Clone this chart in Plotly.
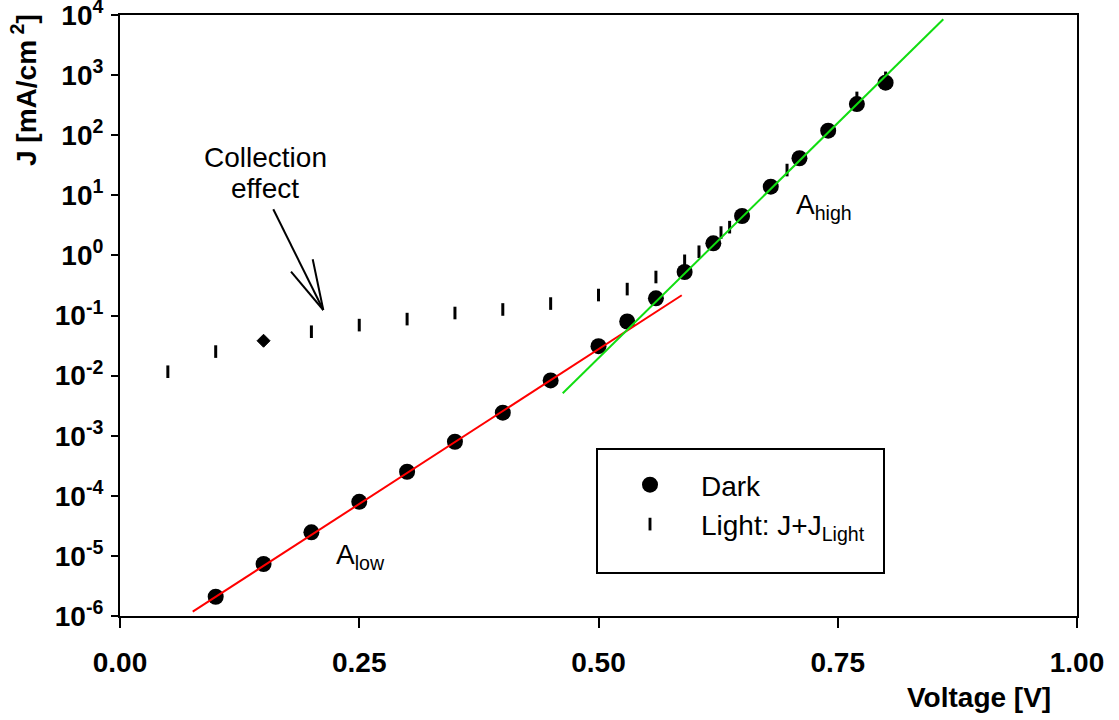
import plotly.graph_objects as go

# Dark J-V curve
dark_v = [0.10, 0.15, 0.20, 0.25, 0.30, 0.35, 0.40, 0.45, 0.50, 0.53,
          0.56, 0.59, 0.62, 0.65, 0.68, 0.71, 0.74, 0.77, 0.80]
dark_j = [2.09e-6, 7.33e-6, 2.47e-5, 7.94e-5, 2.51e-4, 7.94e-4, 2.42e-3,
          8.32e-3, 3.09e-2, 7.94e-2, 0.193, 0.530, 1.59, 4.53, 13.9, 41.3,
          119, 330, 748]

# Illuminated curve, J + J_Light
light_v = [0.05, 0.10, 0.15, 0.20, 0.25, 0.30, 0.35, 0.40, 0.45, 0.50,
           0.53, 0.56, 0.59, 0.605, 0.628, 0.637, 0.697, 0.77, 0.80]
light_j = [1.16e-2, 2.51e-2, 3.80e-2, 5.37e-2, 6.92e-2, 8.71e-2, 0.110,
           0.126, 0.158, 0.219, 0.275, 0.437, 0.813, 1.15, 2.40, 2.95,
           26.3, 417, 900]

# Diode fits (low- and high-bias regimes)
low_fit_v = [0.076, 0.587]
low_fit_j = [1.18e-6, 0.217]
high_fit_v = [0.4626, 0.8603]
high_fit_j = [5.07e-3, 8472]

x_ticks = [0.0, 0.25, 0.50, 0.75, 1.00]
y_exponents = [-6, -5, -4, -3, -2, -1, 0, 1, 2, 3, 4]

FONT = "Arial, Liberation Sans, sans-serif"
W, H = 1119, 720
L, R, T, B = 120, 42, 15, 104
PW, PH = W - L - R, H - T - B


def px(x):
    return (x - L) / PW


def py(y):
    return (H - B - y) / PH


light_symbols = ["line-ns-open"] * len(light_v)
light_symbols[2] = "diamond"
light_sizes = [9] * len(light_v)
light_sizes[2] = 10
light_lw = [3] * len(light_v)
light_lw[2] = 1

fig = go.Figure()

fig.add_trace(go.Scatter(
    x=dark_v, y=dark_j, mode="markers", name="Dark",
    marker=dict(symbol="circle", size=16, color="black", opacity=1),
))
fig.add_trace(go.Scatter(
    x=light_v, y=light_j, mode="markers", name="Light: J+J<sub>Light</sub>",
    marker=dict(symbol=light_symbols, size=light_sizes, color="black",
                opacity=1, line=dict(color="black", width=light_lw)),
))
fig.add_trace(go.Scatter(
    x=low_fit_v, y=low_fit_j, mode="lines", showlegend=False,
    line=dict(color="#ff0000", width=2),
))
fig.add_trace(go.Scatter(
    x=high_fit_v, y=high_fit_j, mode="lines", showlegend=False,
    line=dict(color="#11dd11", width=2),
))

shapes = [
    # legend frame
    dict(type="rect", xref="paper", yref="paper",
         x0=px(597), x1=px(884), y0=py(573), y1=py(449),
         line=dict(color="black", width=2), fillcolor="rgba(0,0,0,0)"),
]
# open arrow pointing at the collection-limited region
for (x0, y0) in [(273.3, 209.3), (291, 271.7), (312.7, 259.3)]:
    shapes.append(dict(type="line", xref="paper", yref="paper",
                       x0=px(x0), y0=py(y0), x1=px(323.3), y1=py(310),
                       line=dict(color="black", width=2)))

annotations = [
    dict(text="Collection", x=px(265), y=py(157), xref="paper", yref="paper",
         showarrow=False, xanchor="center", yanchor="middle",
         font=dict(family=FONT, size=28, color="black")),
    dict(text="effect", x=px(265), y=py(189), xref="paper", yref="paper",
         showarrow=False, xanchor="center", yanchor="middle",
         font=dict(family=FONT, size=28, color="black")),
    dict(text="A<sub>low</sub>", x=px(334), y=py(556), xref="paper", yref="paper",
         showarrow=False, xanchor="left", yanchor="middle",
         font=dict(family=FONT, size=28, color="black")),
    dict(text="A<sub>high</sub>", x=px(794), y=py(206), xref="paper", yref="paper",
         showarrow=False, xanchor="left", yanchor="middle",
         font=dict(family=FONT, size=28, color="black")),
    dict(text="<b>J [mA/cm<sup> 2</sup>]</b>", x=px(24), y=py(90),
         xref="paper", yref="paper", showarrow=False, textangle=-90,
         xanchor="center", yanchor="middle",
         font=dict(family=FONT, size=28, color="black")),
    dict(text="<b>Voltage [V]</b>", x=px(1053), y=py(698),
         xref="paper", yref="paper", showarrow=False,
         xanchor="right", yanchor="middle",
         font=dict(family=FONT, size=28, color="black")),
]

fig.update_layout(
    width=W, height=H,
    margin=dict(l=L, r=R, t=T, b=B, autoexpand=False),
    paper_bgcolor="white", plot_bgcolor="white",
    font=dict(family=FONT, size=28, color="black"),
    shapes=shapes, annotations=annotations,
    showlegend=True,
    legend=dict(x=px(599), y=py(460), xanchor="left", yanchor="top",
                bgcolor="rgba(0,0,0,0)", borderwidth=0,
                font=dict(family=FONT, size=28, color="black"),
                itemwidth=92, tracegroupgap=0),
)

fig.update_xaxes(
    range=[0, 1], tickvals=x_ticks,
    ticktext=[f"{v:.2f}" for v in x_ticks],
    ticks="outside", ticklen=10, tickwidth=2, tickcolor="black",
    showline=True, linecolor="black", linewidth=2, mirror=True,
    showgrid=False, zeroline=False, ticklabelstandoff=10,
    ticklabeloverflow="allow", automargin=False,
    tickfont=dict(family=FONT, size=28, color="black", weight="bold"),
)
fig.update_yaxes(
    type="log", range=[-6, 4],
    tickvals=[10.0 ** e for e in y_exponents],
    ticktext=[f"10<sup>{e}</sup>" for e in y_exponents],
    ticks="outside", ticklen=7, tickwidth=2, tickcolor="black",
    showline=True, linecolor="black", linewidth=2, mirror=True,
    showgrid=False, zeroline=False, ticklabelstandoff=2,
    ticklabeloverflow="allow", automargin=False,
    tickfont=dict(family=FONT, size=28, color="black", weight="bold"),
)

fig.write_html("out.html")
